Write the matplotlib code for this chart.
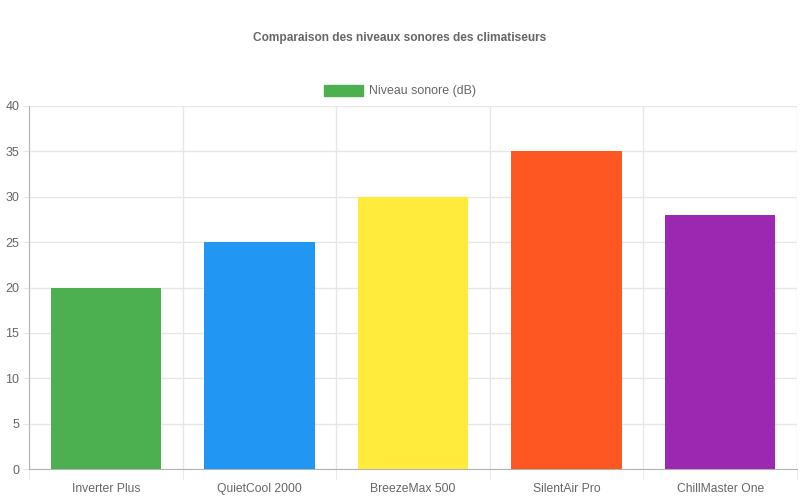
import numpy as np
import matplotlib.pyplot as plt
from matplotlib.patches import Patch

plt.rcParams['font.family'] = ['Liberation Sans', 'DejaVu Sans']

models = ['Inverter Plus', 'QuietCool 2000', 'BreezeMax 500', 'SilentAir Pro', 'ChillMaster One']
noise_db = [20, 25, 30, 35, 28]
bar_colors = ['#4CAF50', '#2196F3', '#FFEB3B', '#FF5722', '#9C27B0']
y_ticks = [0, 5, 10, 15, 20, 25, 30, 35, 40]
series_label = 'Niveau sonore (dB)'
title = 'Comparaison des niveaux sonores des climatiseurs'

grid_col = '#e6e6e6'
axis_col = '#b3b3b3'
text_col = '#666666'

fig = plt.figure(figsize=(8, 5), dpi=100)
ax = fig.add_axes([29 / 800, 1 - 469 / 500, (797 - 29) / 800, (469 - 106) / 500])

x = np.arange(len(models))
ax.bar(x, noise_db, width=0.72, color=bar_colors, zorder=3)

ax.set_xlim(-0.5, len(models) - 0.5)
ax.set_ylim(0, 40)
ax.set_yticks(y_ticks)
ax.set_xticks(x)
ax.set_xticklabels(models)
ax.set_xticks(np.arange(len(models) + 1) - 0.5, minor=True)

ax.grid(axis='y', color=grid_col, linewidth=1, zorder=0)
ax.grid(axis='x', which='minor', color=grid_col, linewidth=1, zorder=0)

ax.tick_params(axis='x', which='major', length=0, pad=10, labelsize=8.7, labelcolor=text_col)
ax.tick_params(axis='x', which='minor', length=7, color=grid_col)
ax.tick_params(axis='y', length=4, color=grid_col, pad=3, labelsize=9, labelcolor=text_col)

for side in ['top', 'right']:
    ax.spines[side].set_visible(False)
ax.spines['left'].set_color(axis_col)
ax.spines['bottom'].set_color(axis_col)

fig.text(0.5, 1 - 38 / 500, title, ha='center', va='center', fontsize=8.6,
         fontweight='bold', color=text_col)

handle = Patch(facecolor=bar_colors[0], edgecolor=bar_colors[0])
fig.legend([handle], [series_label], loc='center', bbox_to_anchor=(0.5, 1 - 91 / 500),
           frameon=False, fontsize=8.9, labelcolor=text_col,
           handlelength=3.2, handleheight=1.0, handletextpad=0.5)

fig.savefig('out.png', dpi=100)
